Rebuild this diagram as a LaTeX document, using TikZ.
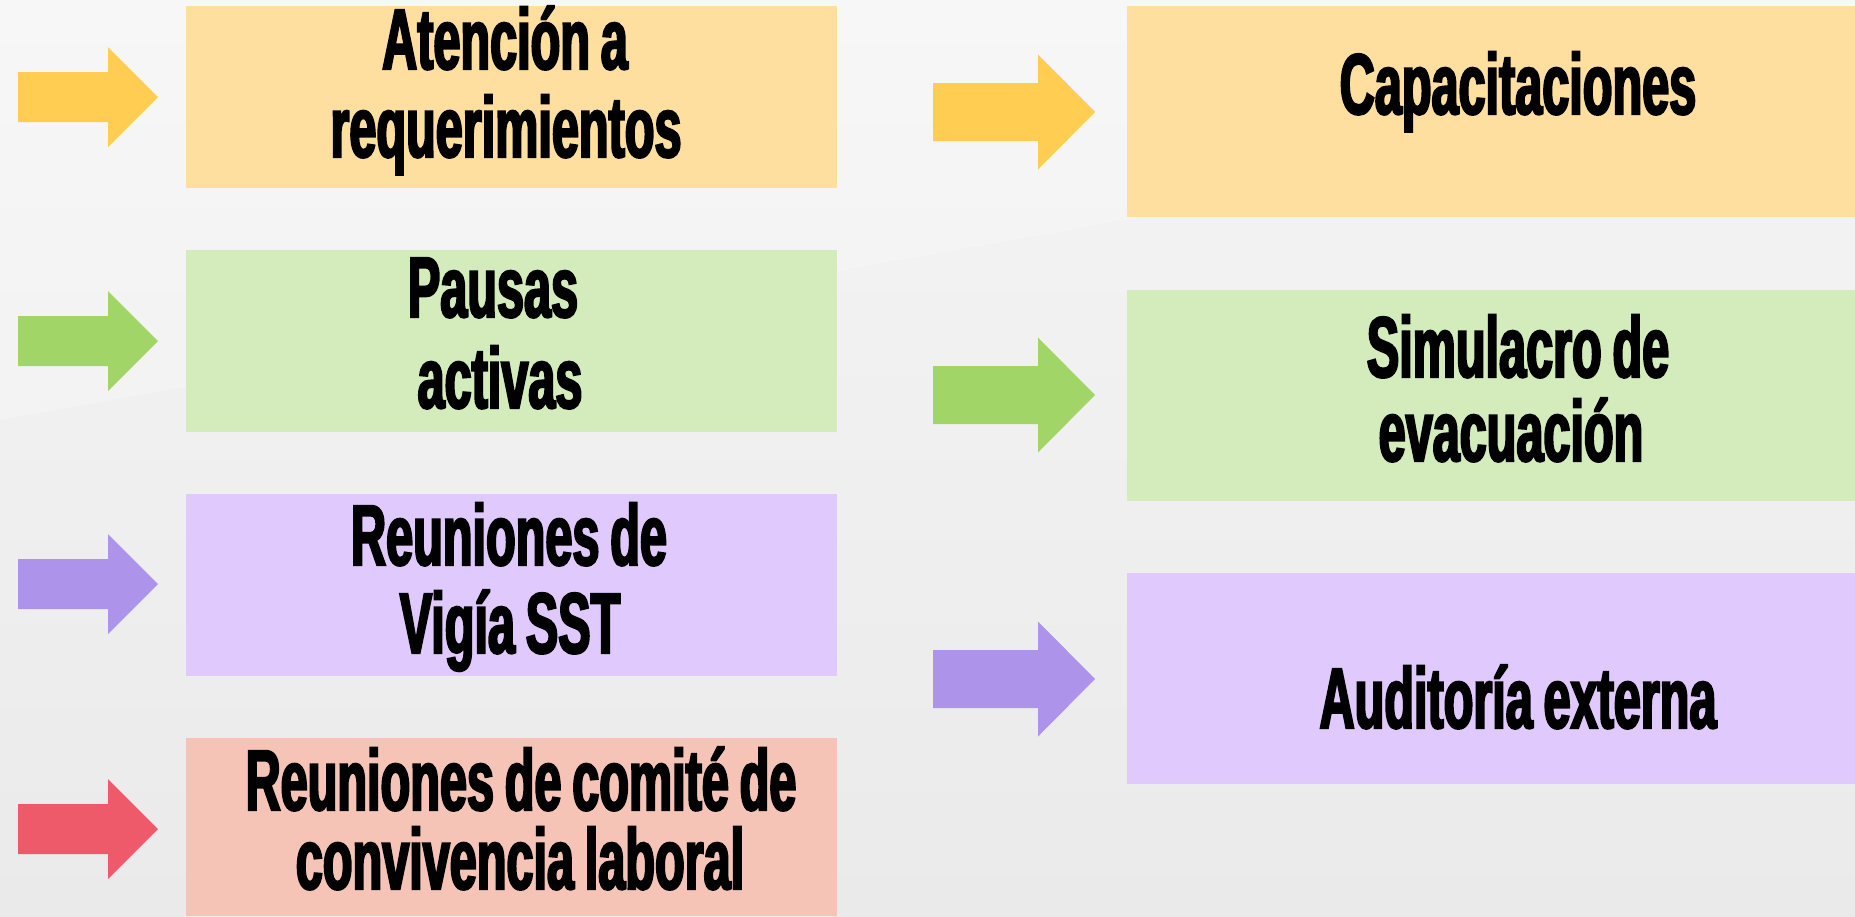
\documentclass[tikz,border=0pt]{standalone}
\usepackage{fontspec}
\newfontfamily\antonfont{Liberation Sans Bold}[FakeStretch=0.565,FakeBold=2.5,WordSpace=0.8]
\definecolor{bgA}{HTML}{F5F5F5}
\definecolor{bgB}{HTML}{EAEAEA}
\definecolor{boxOr}{HTML}{FFDFA0}
\definecolor{boxGr}{HTML}{D4EBBB}
\definecolor{boxPu}{HTML}{E0C9FD}
\definecolor{boxPk}{HTML}{F6C4B7}
\definecolor{arOr}{HTML}{FFCD52}
\definecolor{arGr}{HTML}{A2D568}
\definecolor{arPu}{HTML}{AD93EA}
\definecolor{arRd}{HTML}{EE5A6A}
\begin{document}
\begin{tikzpicture}[x=1pt,y=-1pt,
  panel/.style={draw=none,inner sep=0pt,outer sep=0pt,anchor=north west},
  lbl/.style={inner sep=0pt,anchor=base,text height=60pt,text depth=14pt,font=\antonfont\fontsize{86}{88}\selectfont,text=black}]
\useasboundingbox (0,0) rectangle (1855,916);
\shade[top color=bgA,bottom color=bgB] (0,0) rectangle (1855,916);
\fill[white,opacity=0.2] (0,0) -- (1855,0) -- (1855,90) -- (0,420) -- cycle;
% left column boxes
\node[panel,fill=boxOr,minimum width=651pt,minimum height=182pt] (b1) at (186,6) {};
\node[panel,fill=boxGr,minimum width=651pt,minimum height=182pt] (b2) at (186,250) {};
\node[panel,fill=boxPu,minimum width=651pt,minimum height=182pt] (b3) at (186,494) {};
\node[panel,fill=boxPk,minimum width=651pt,minimum height=178pt] (b4) at (186,738) {};
% right column boxes
\node[panel,fill=boxOr,minimum width=728pt,minimum height=211pt] (b5) at (1127,6) {};
\node[panel,fill=boxGr,minimum width=728pt,minimum height=211pt] (b6) at (1127,290) {};
\node[panel,fill=boxPu,minimum width=728pt,minimum height=211pt] (b7) at (1127,573) {};
% left arrows
\foreach \c/\col in {97/arOr,341/arGr,584/arPu,829/arRd}{
  \fill[\col] (18,\c-25) -- (108,\c-25) -- (108,\c-50) -- (158,\c) -- (108,\c+50) -- (108,\c+25) -- (18,\c+25) -- cycle;
}
% right arrows
\foreach \c/\col in {112/arOr,395/arGr,679/arPu}{
  \fill[\col] (933,\c-29) -- (1038,\c-29) -- (1038,\c-57.5) -- (1095,\c) -- (1038,\c+57.5) -- (1038,\c+29) -- (933,\c+29) -- cycle;
}
% labels
\node[lbl] (t1a) at (505,69) {Atención a};
\node[lbl] (t1b) at (506,157) {requerimientos};
\node[lbl] (t2a) at (493,317) {Pausas};
\node[lbl] (t2b) at (500,408) {activas};
\node[lbl] (t3a) at (509,565) {Reuniones de};
\node[lbl] (t3b) at (510,653) {Vigía SST};
\node[lbl] (t4a) at (521,810) {Reuniones de comité de};
\node[lbl] (t4b) at (520,889) {convivencia laboral};
\node[lbl] (t5a) at (1518,114) {Capacitaciones};
\node[lbl] (t6a) at (1518,377) {Simulacro de};
\node[lbl] (t6b) at (1511,461) {evacuación};
\node[lbl] (t7a) at (1518,728) {Auditoría externa};
\end{tikzpicture}
\end{document}
